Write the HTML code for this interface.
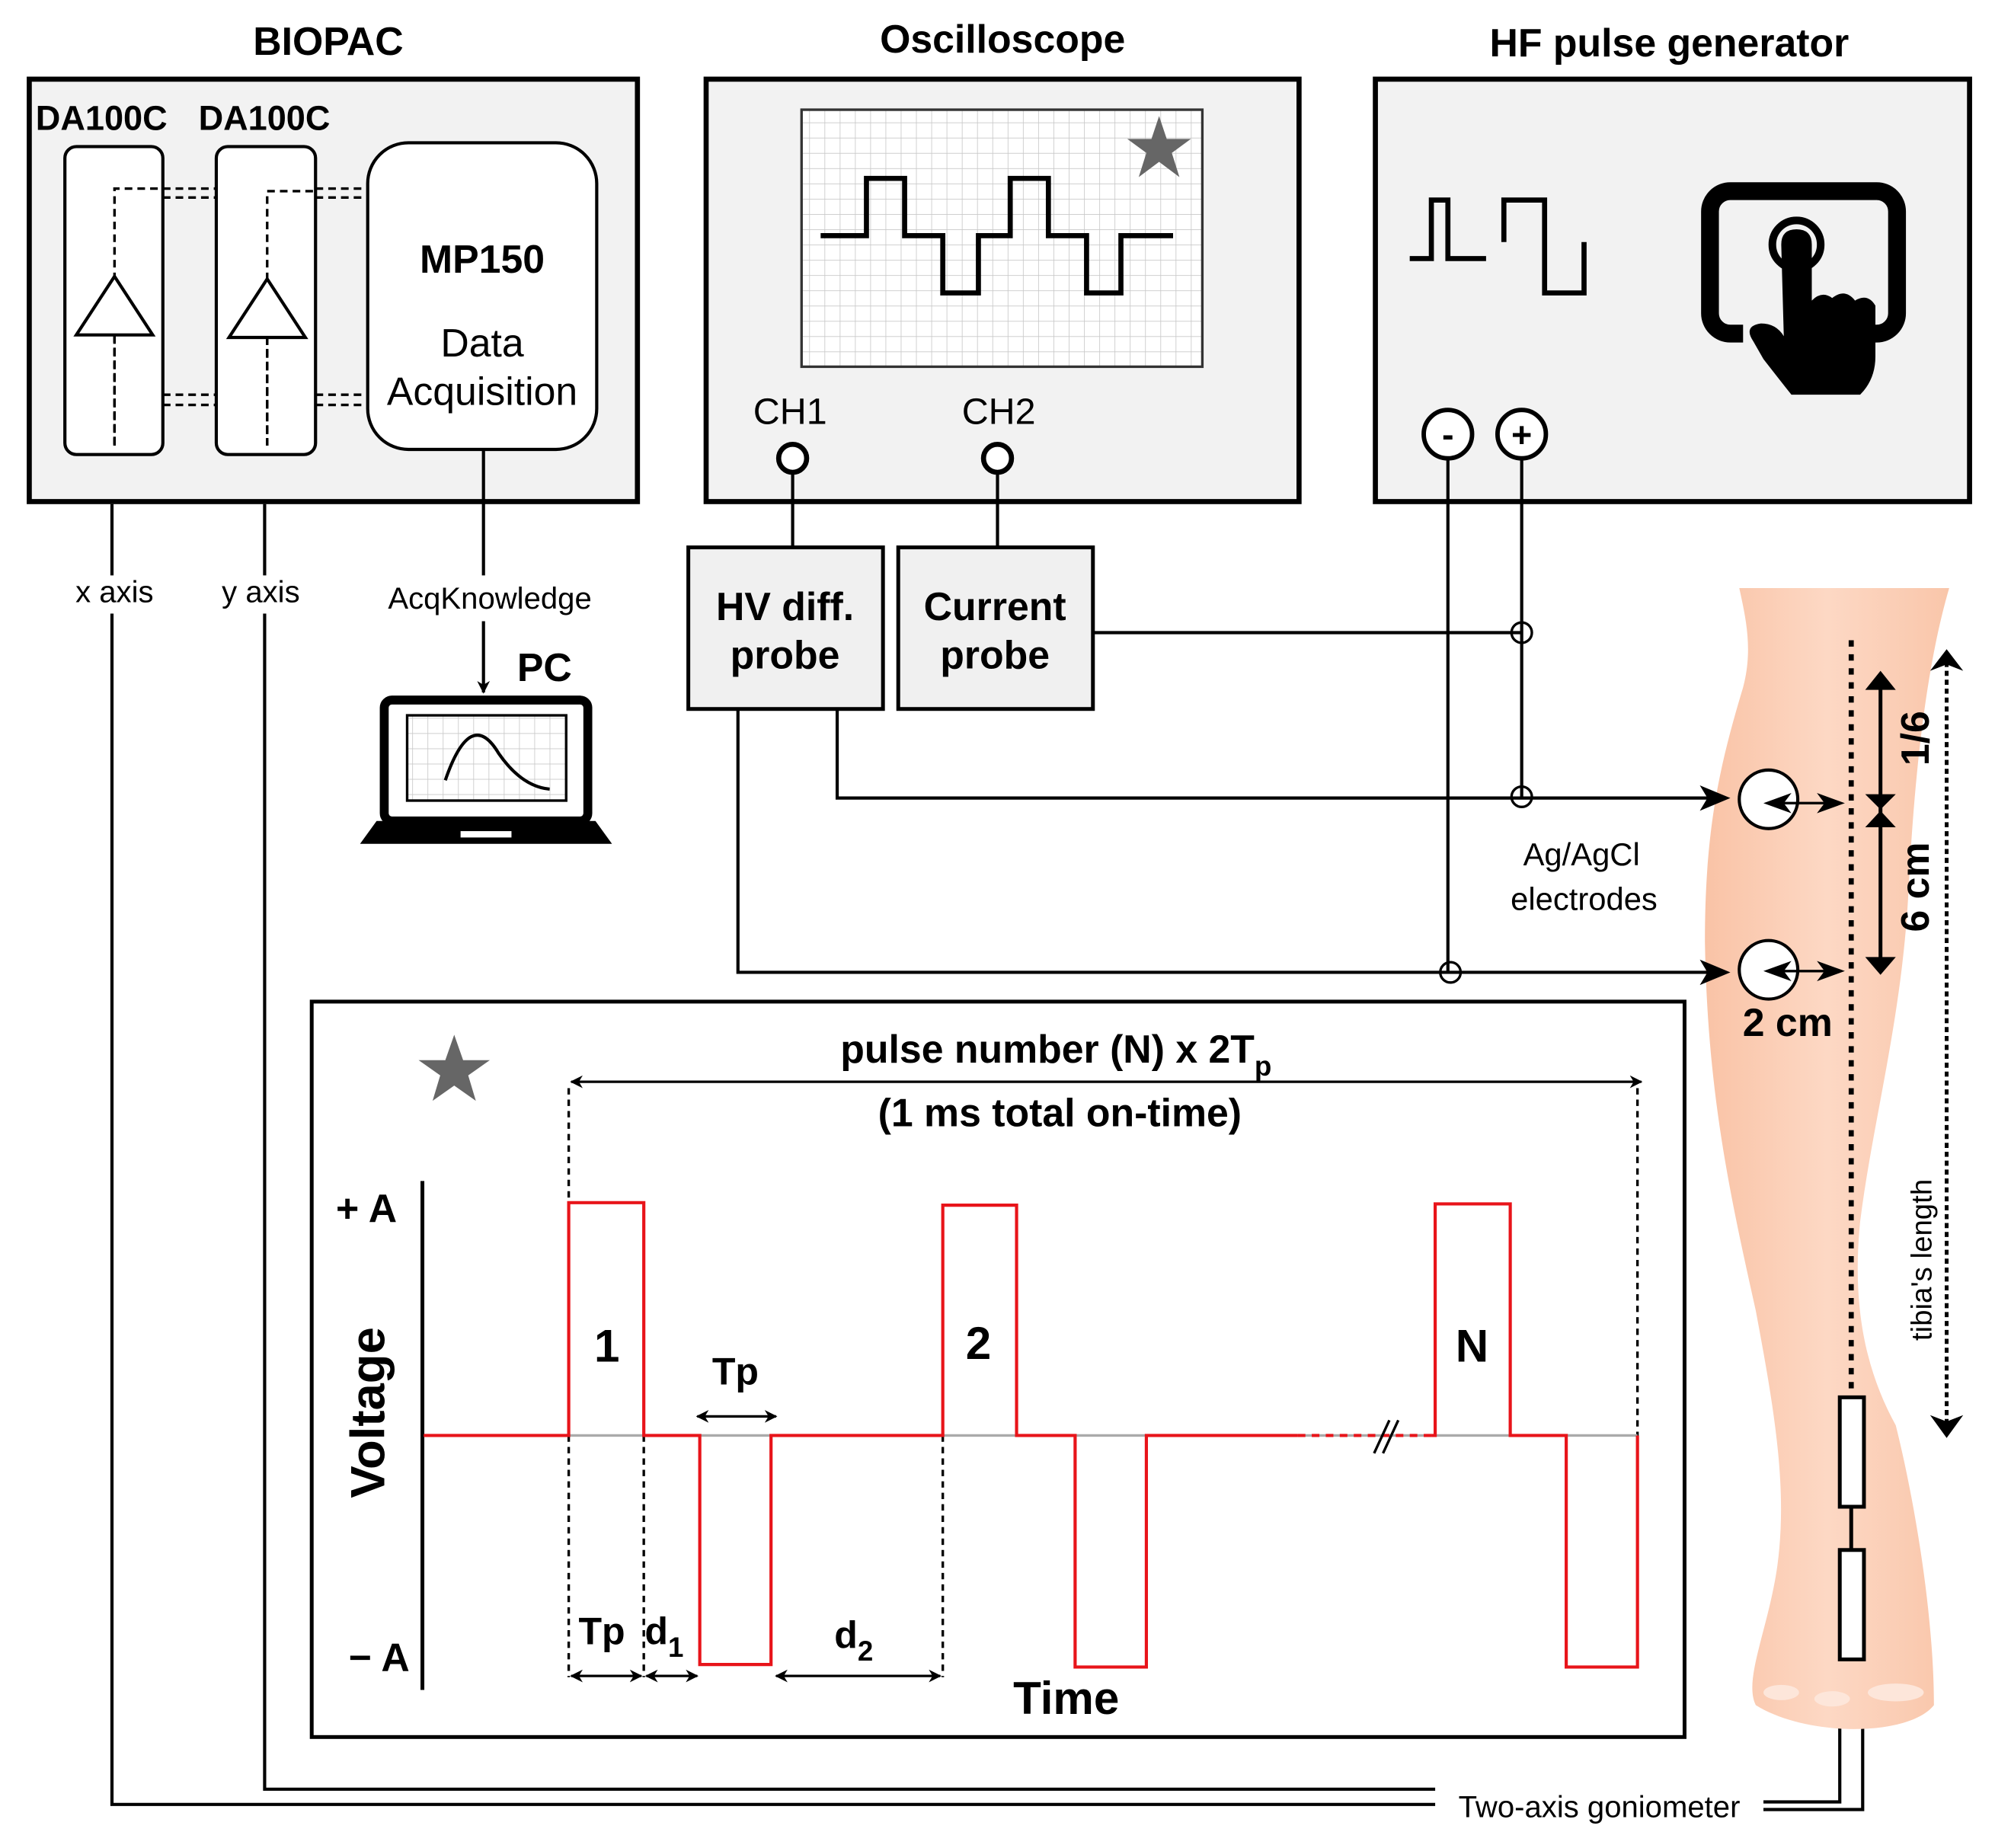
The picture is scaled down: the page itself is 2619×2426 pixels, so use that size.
<!DOCTYPE html>
<html><head><meta charset="utf-8"><style>
html,body{margin:0;padding:0;background:#fff}
svg{display:block}
text{font-family:"Liberation Sans",Arial,sans-serif}
</style></head><body>
<svg width="2619" height="2426" viewBox="0 0 1568 1452" xmlns="http://www.w3.org/2000/svg">
<defs>
<marker id="ar" markerWidth="10" markerHeight="10" refX="9" refY="5" orient="auto" markerUnits="userSpaceOnUse"><path d="M0,0 L10,5 L0,10 L3,5 z" fill="#000"/></marker>
<marker id="al" markerWidth="10" markerHeight="10" refX="1" refY="5" orient="auto" markerUnits="userSpaceOnUse"><path d="M10,0 L0,5 L10,10 L7,5 z" fill="#000"/></marker>
<pattern id="grid" width="12" height="12" patternUnits="userSpaceOnUse"><path d="M12,0 L0,0 0,12" fill="none" stroke="#c8c8c8" stroke-width="1"/></pattern>
<linearGradient id="skin" x1="0" x2="1"><stop offset="0" stop-color="#f9c3a6"/><stop offset="0.5" stop-color="#fdd8c4"/><stop offset="1" stop-color="#f9c6aa"/></linearGradient>
</defs>

<text x="258" y="43" font-size="31" font-weight="bold" text-anchor="middle">BIOPAC</text>
<text x="788" y="41" font-size="31" font-weight="bold" text-anchor="middle">Oscilloscope</text>
<text x="1312" y="44" font-size="31" font-weight="bold" text-anchor="middle">HF pulse generator</text>

<rect x="23" y="62" width="478" height="332" fill="#f2f2f2" stroke="#000" stroke-width="4"/>
<text x="28" y="102" font-size="27" font-weight="bold">DA100C</text>
<text x="156" y="102" font-size="27" font-weight="bold">DA100C</text>
<rect x="51" y="115" width="77" height="242" rx="9" fill="#fff" stroke="#000" stroke-width="2.5"/>
<rect x="170" y="115" width="78" height="242" rx="9" fill="#fff" stroke="#000" stroke-width="2.5"/>
<g stroke="#000" stroke-width="2" stroke-dasharray="6,4" fill="none">
<path d="M90,350 V148 H170"/><path d="M128,155 H170"/><path d="M248,148 H289"/><path d="M248,155 H289"/>
<path d="M128,310 H170"/><path d="M128,318 H170"/><path d="M248,310 H289"/><path d="M248,318 H289"/>
<path d="M210,350 V150 H248"/>
</g>
<polygon points="60,263 90,217 120,263" fill="#fff" stroke="#000" stroke-width="2.5"/>
<polygon points="180,265 210,219 240,265" fill="#fff" stroke="#000" stroke-width="2.5"/>
<path d="M90,263 V350 M210,265 V350" stroke="#000" stroke-width="2" stroke-dasharray="6,4"/>
<rect x="289" y="112" width="180" height="241" rx="32" fill="#fff" stroke="#000" stroke-width="2.5"/>
<text x="379" y="214" font-size="31" font-weight="bold" text-anchor="middle">MP150</text>
<text x="379" y="280" font-size="31" text-anchor="middle">Data</text>
<text x="379" y="318" font-size="31" text-anchor="middle">Acquisition</text>

<rect x="555" y="62" width="466" height="332" fill="#f2f2f2" stroke="#000" stroke-width="4"/>
<rect x="630" y="86" width="315" height="202" fill="#fff"/>
<rect x="630" y="86" width="315" height="202" fill="url(#grid)" stroke="#333" stroke-width="2"/>
<polygon points="911,91 917,109 936,109 921,120 927,139 911,127 895,139 901,120 886,109 905,109" fill="#666"/>
<path d="M645,185 H681 V140 H711 V185 H741 V230 H769 V185 H794 V140 H824 V185 H854 V230 H881 V185 H922" fill="none" stroke="#000" stroke-width="4"/>
<text x="621" y="333" font-size="29" text-anchor="middle">CH1</text>
<text x="785" y="333" font-size="29" text-anchor="middle">CH2</text>
<circle cx="623" cy="360" r="11" fill="#fff" stroke="#000" stroke-width="4"/>
<circle cx="784" cy="360" r="11" fill="#fff" stroke="#000" stroke-width="4"/>

<rect x="1081" y="62" width="467" height="332" fill="#f2f2f2" stroke="#000" stroke-width="4"/>
<path d="M1108,203 H1125 V157 H1138 V203 H1168" fill="none" stroke="#000" stroke-width="4"/>
<path d="M1182,190 V157 H1214 V230 H1245 V190" fill="none" stroke="#000" stroke-width="4"/>
<rect x="1344" y="150" width="147" height="112" rx="16" fill="none" stroke="#000" stroke-width="14"/>
<rect x="1370" y="250" width="100" height="20" fill="#f2f2f2"/>
<circle cx="1412" cy="192" r="19" fill="none" stroke="#000" stroke-width="6"/>
<path d="M1400,192 q0,-12 12,-12 q12,0 12,12 V236 q8,-8 16,-2 q10,-8 18,2 q10,-6 16,4 V280 q0,18 -12,30 H1408 q-8,-10 -22,-28 L1378,268 q-8,-12 6,-14 q12,0 18,10 Z" fill="#000"/>
<circle cx="1138" cy="341" r="19" fill="#fff" stroke="#000" stroke-width="3.5"/>
<circle cx="1196" cy="341" r="19" fill="#fff" stroke="#000" stroke-width="3.5"/>
<text x="1138" y="351" font-size="28" font-weight="bold" text-anchor="middle">-</text>
<text x="1196" y="351" font-size="28" font-weight="bold" text-anchor="middle">+</text>

<g stroke="#000" stroke-width="2.5" fill="none">
<path d="M88,396 V452"/><path d="M88,482 V1418 H1128"/>
<path d="M208,396 V452"/><path d="M208,482 V1406 H1128"/>
<path d="M380,353 V452"/><path d="M380,488 V544" marker-end="url(#ar)"/>
<path d="M1386,1416 H1446 V1300"/><path d="M1386,1422 H1464 V1300"/>
</g>
<text x="90" y="473" font-size="24" text-anchor="middle">x axis</text>
<text x="205" y="473" font-size="24" text-anchor="middle">y axis</text>
<text x="385" y="478" font-size="24" text-anchor="middle">AcqKnowledge</text>
<text x="1257" y="1428" font-size="24" text-anchor="middle">Two-axis goniometer</text>

<text x="428" y="535" font-size="31" font-weight="bold" text-anchor="middle">PC</text>
<rect x="302" y="550" width="160" height="95" rx="6" fill="#fff" stroke="#000" stroke-width="7"/>
<rect x="320" y="562" width="125" height="67" fill="url(#grid)" stroke="#000" stroke-width="2"/>
<path d="M350,613 Q370,555 392,592 Q410,618 432,620" fill="none" stroke="#000" stroke-width="2.5"/>
<path d="M283,663 L296,645 H468 L481,663 Z" fill="#000"/>
<rect x="362" y="653" width="40" height="5" fill="#fff"/>

<rect x="541" y="430" width="153" height="127" fill="#f0f0f0" stroke="#000" stroke-width="3"/>
<rect x="706" y="430" width="153" height="127" fill="#f0f0f0" stroke="#000" stroke-width="3"/>
<text x="617" y="487" font-size="31" font-weight="bold" text-anchor="middle">HV diff.</text>
<text x="617" y="525" font-size="31" font-weight="bold" text-anchor="middle">probe</text>
<text x="782" y="487" font-size="31" font-weight="bold" text-anchor="middle">Current</text>
<text x="782" y="525" font-size="31" font-weight="bold" text-anchor="middle">probe</text>

<!-- leg -->
<path d="M1367,462 H1532 C1515,520 1505,600 1500,700 C1495,800 1472,880 1462,960 C1455,1030 1468,1080 1490,1120 C1505,1180 1520,1270 1520,1340 C1500,1365 1420,1365 1380,1340 C1370,1320 1390,1280 1397,1230 C1405,1170 1395,1110 1380,1030 C1360,940 1342,860 1340,740 C1340,650 1352,600 1370,540 C1378,510 1372,485 1367,462 Z" fill="url(#skin)"/>
<ellipse cx="1400" cy="1330" rx="14" ry="6" fill="#fde6da"/>
<ellipse cx="1440" cy="1335" rx="14" ry="6" fill="#fde6da"/>
<ellipse cx="1490" cy="1330" rx="22" ry="7" fill="#fde6da"/>

<g stroke="#000" stroke-width="2.5" fill="none">
<path d="M623,371 V430"/><path d="M784,371 V430"/>
<path d="M1138,360 V764"/><path d="M1196,360 V626"/>
<path d="M859,497 H1196"/>
<path d="M658,557 V627 H1345"/>
<path d="M580,557 V764 H1345"/>
</g>
<polygon points="1336,617 1360,627 1336,637 1342,627" fill="#000"/>
<polygon points="1336,754 1360,764 1336,774 1342,764" fill="#000"/>

<path d="M1455,503 V1100" stroke="#000" stroke-width="4" stroke-dasharray="5,6"/>
<path d="M1530,520 V1120" stroke="#000" stroke-width="3" stroke-dasharray="4,3"/>
<polygon points="1517,527 1530,510 1543,527 1530,522" fill="#000"/>
<polygon points="1517,1112 1530,1130 1543,1112 1530,1117" fill="#000"/>
<path d="M1478,540 V758" stroke="#000" stroke-width="3"/>
<polygon points="1466,542 1478,527 1490,542" fill="#000"/>
<polygon points="1466,624 1478,636 1490,624" fill="#000"/>
<polygon points="1466,650 1478,637 1490,650" fill="#000"/>
<polygon points="1466,752 1478,766 1490,752" fill="#000"/>
<text transform="translate(1516,580) rotate(-90)" font-size="31" font-weight="bold" text-anchor="middle">1/6</text>
<text transform="translate(1516,697) rotate(-90)" font-size="31" font-weight="bold" text-anchor="middle">6 cm</text>
<text transform="translate(1518,990) rotate(-90)" font-size="23" text-anchor="middle">tibia's length</text>
<circle cx="1390" cy="628" r="23" fill="#fff" stroke="#000" stroke-width="2.5"/>
<circle cx="1390" cy="762" r="23" fill="#fff" stroke="#000" stroke-width="2.5"/>
<path d="M1395,631 H1440 M1395,763 H1440" stroke="#000" stroke-width="2"/>
<polygon points="1408,623 1386,631 1408,639 1402,631" fill="#000"/>
<polygon points="1428,623 1450,631 1428,639 1434,631" fill="#000"/>
<polygon points="1408,755 1386,763 1408,771 1402,763" fill="#000"/>
<polygon points="1428,755 1450,763 1428,771 1434,763" fill="#000"/>
<text x="1405" y="814" font-size="31" font-weight="bold" text-anchor="middle">2 cm</text>
<text x="1243" y="680" font-size="25" text-anchor="middle">Ag/AgCl</text>
<text x="1245" y="715" font-size="25" text-anchor="middle">electrodes</text>
<circle cx="1196" cy="497" r="8" fill="none" stroke="#000" stroke-width="2"/>
<circle cx="1196" cy="626" r="8" fill="none" stroke="#000" stroke-width="2"/>
<circle cx="1140" cy="764" r="8" fill="none" stroke="#000" stroke-width="2"/>
<rect x="1446" y="1098" width="19" height="86" fill="#fff" stroke="#000" stroke-width="3"/>
<rect x="1446" y="1218" width="19" height="86" fill="#fff" stroke="#000" stroke-width="3"/>
<path d="M1455,1184 V1218" stroke="#000" stroke-width="3"/>

<rect x="245" y="787" width="1079" height="578" fill="#fff" stroke="#000" stroke-width="3"/>
<polygon points="357,813 364,833 385,833 368,845 374,865 357,853 340,865 346,845 329,833 350,833" fill="#666"/>
<text x="830" y="835" font-size="31" font-weight="bold" text-anchor="middle">pulse number (N) x 2T<tspan font-size="22" dy="10">p</tspan></text>
<text x="833" y="885" font-size="31" font-weight="bold" text-anchor="middle">(1 ms total on-time)</text>
<path d="M449,850 H1290" stroke="#000" stroke-width="2" marker-start="url(#al)" marker-end="url(#ar)"/>
<g stroke="#000" stroke-width="2" stroke-dasharray="5,4" fill="none">
<path d="M447,855 V945"/><path d="M1287,855 V1128"/>
<path d="M447,1128 V1318"/><path d="M506,1128 V1318"/><path d="M741,1128 V1318"/>
</g>
<path d="M332,928 V1328" stroke="#000" stroke-width="3"/>
<text x="288" y="960" font-size="31" font-weight="bold" text-anchor="middle">+ A</text>
<text x="298" y="1313" font-size="31" font-weight="bold" text-anchor="middle">− A</text>
<text transform="translate(302,1110) rotate(-90)" font-size="38" font-weight="bold" text-anchor="middle">Voltage</text>
<text x="838" y="1347" font-size="36" font-weight="bold" text-anchor="middle">Time</text>
<path d="M447,1128 H1287" stroke="#aaa" stroke-width="2"/>
<path d="M333,1128 H447 V945 H506 V1128 H550 V1308 H606 V1128 H741 V947 H799 V1128 H845 V1310 H901 V1128 H1020" fill="none" stroke="#e8141a" stroke-width="2.5"/>
<path d="M1020,1128 H1125" fill="none" stroke="#e8141a" stroke-width="2.5" stroke-dasharray="6,5"/>
<path d="M1080,1142 L1092,1116 M1087,1142 L1099,1116" stroke="#000" stroke-width="2"/>
<path d="M1125,1128 H1128 V946 H1187 V1128 H1231 V1310 H1287 V1128" fill="none" stroke="#e8141a" stroke-width="2.5"/>
<text x="477" y="1070" font-size="36" font-weight="bold" text-anchor="middle">1</text>
<text x="769" y="1068" font-size="36" font-weight="bold" text-anchor="middle">2</text>
<text x="1157" y="1070" font-size="36" font-weight="bold" text-anchor="middle">N</text>
<text x="578" y="1088" font-size="30" font-weight="bold" text-anchor="middle">Tp</text>
<path d="M548,1113 H610" stroke="#000" stroke-width="2" marker-start="url(#al)" marker-end="url(#ar)"/>
<text x="473" y="1292" font-size="30" font-weight="bold" text-anchor="middle">Tp</text>
<text x="522" y="1292" font-size="30" font-weight="bold" text-anchor="middle">d<tspan font-size="22" dy="10">1</tspan></text>
<text x="671" y="1295" font-size="30" font-weight="bold" text-anchor="middle">d<tspan font-size="22" dy="10">2</tspan></text>
<path d="M449,1317 H504" stroke="#000" stroke-width="2" marker-start="url(#al)" marker-end="url(#ar)"/>
<path d="M508,1317 H548" stroke="#000" stroke-width="2" marker-start="url(#al)" marker-end="url(#ar)"/>
<path d="M610,1317 H739" stroke="#000" stroke-width="2" marker-start="url(#al)" marker-end="url(#ar)"/>
</svg>
</body></html>
